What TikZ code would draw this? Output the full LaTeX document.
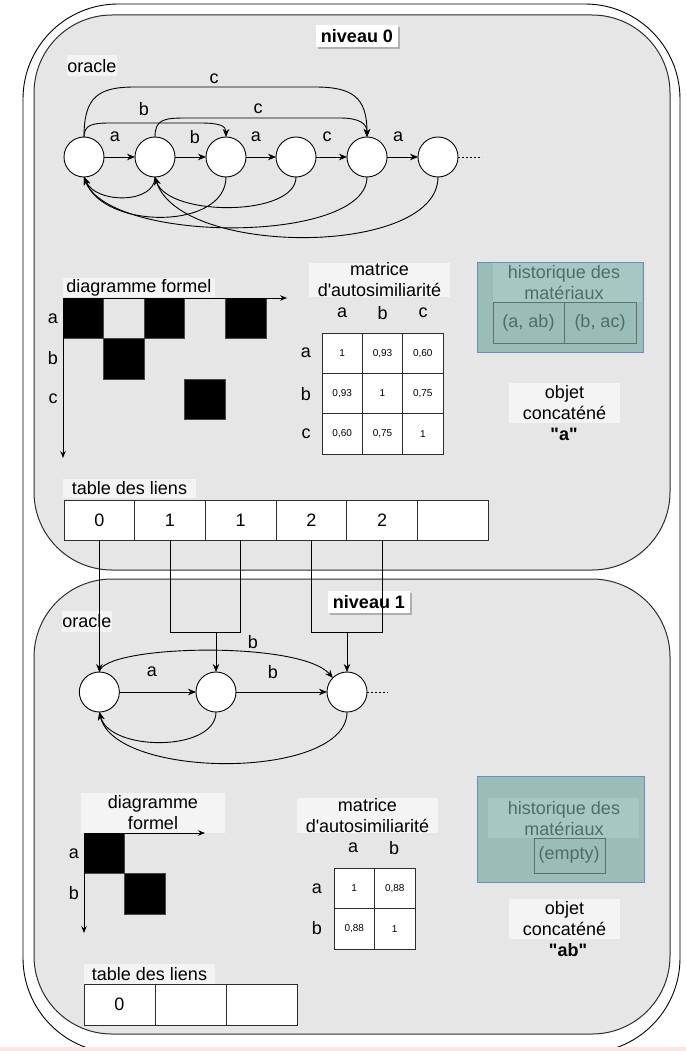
\documentclass[tikz,border=0pt]{standalone}
\usepackage{fontspec}
\setmainfont{Liberation Sans}[Ligatures=TeXOff]
\usetikzlibrary{arrows.meta}
\definecolor{boxgray}{RGB}{230,230,230}
\definecolor{labelbg}{RGB}{244,244,244}
\definecolor{edgegray}{RGB}{45,45,45}
\definecolor{histfill}{RGB}{155,189,183}
\definecolor{histband}{RGB}{167,200,194}
\definecolor{histborder}{RGB}{108,142,191}
\definecolor{histtext}{RGB}{80,108,103}
\definecolor{histline}{RGB}{88,116,108}
\definecolor{pinkstrip}{RGB}{252,230,228}
\definecolor{shadowgray}{RGB}{175,175,175}
\definecolor{sqedge}{RGB}{70,70,70}
\begin{document}
\begin{tikzpicture}[x=1pt,y=-1pt,
  every node/.style={inner sep=0pt, outer sep=0pt, font=\fontsize{18}{21}\selectfont},
  state/.style={circle, draw=black, fill=white, line width=0.9pt, minimum size=40pt},
  link/.style={draw=black, line width=0.9pt},
  arr/.style={link, -{Stealth[length=8pt,width=6.5pt]}},
  axarr/.style={link, -{Stealth[length=7pt,width=5.5pt]}},
  stub/.style={draw=black, line width=0.7pt, dash pattern=on 2pt off 2pt},
  lbl/.style={fill=labelbg, align=center},
  niv/.style={fill=white, font=\bfseries\fontsize{18}{21}\selectfont, minimum width=82pt, minimum height=22pt},
  level/.style={fill=boxgray, draw=edgegray, line width=1pt, rounded corners=78pt},
  cell/.style={draw=edgegray, fill=white, line width=0.9pt, minimum width=70.67pt, minimum height=40pt},
  mcell/.style={draw=edgegray, fill=white, line width=0.9pt, minimum size=40.4pt, font=\fontsize{10}{12}\selectfont},
  sq/.style={fill=black, draw=sqedge, line width=0.7pt, minimum size=40.6pt, anchor=north west},
  hist/.style={fill=histfill, draw=histborder, line width=1pt},
  band/.style={fill=histband},
  hcell/.style={draw=histline, fill=histfill, line width=0.9pt, text=histtext},
  htext/.style={text=histtext, align=center},
]
\useasboundingbox (0,0) rectangle (686,1051);
\fill[white] (0,0) rectangle (686,1051);
% outer frame and level boxes
\draw[fill=white, draw=black, line width=0.9pt, rounded corners=95pt] (23,4) rectangle (680,1053);
\draw[level] (34,15) rectangle (670,570);
\draw[level] (34,579) rectangle (670,1034);

% ================= LEVEL 0 =================
\fill[shadowgray] (318,27) rectangle (400,49);
\node[niv] (niv0) at (357,36) {niveau 0};
\node[lbl, minimum width=50pt, minimum height=21pt] (orc0) at (92,66) {oracle};

\foreach \i/\x in {1/84,2/155,3/226,4/296,5/367,6/438}
  \node[state] (n\i) at (\x,157) {};
\draw[arr] (n1) -- (n2);
\draw[arr] (n2) -- (n3);
\draw[arr] (n3) -- (n4);
\draw[arr] (n4) -- (n5);
\draw[arr] (n5) -- (n6);
\coordinate (d0) at (482,157);
\draw[stub] (n6.east) -- (d0);
\node (la1) at (115,137) {a};
\node (la2) at (195,137) {b};
\node (la3) at (256,137) {a};
\node (la4) at (327,137) {c};
\node (la5) at (398,137) {a};

% upper transitions
\draw[arr] (n1.north) .. controls (84,97) and (98,87) .. (135,87) -- (315,87) .. controls (352,87) and (367,97) .. (n5.north);
\draw[arr] (n1.north) .. controls (84,125) and (92,123) .. (110,123) -- (200,123) .. controls (220,123) and (226,126) .. (n3.north);
\draw[arr] (n2.north) .. controls (155,120) and (163,118) .. (185,118) -- (340,118) .. controls (360,118) and (367,124) .. (n5.north);
\node (lc1) at (214,79) {c};
\node (lb1) at (144,109) {b};
\node (lc2) at (258,109) {c};

% suffix links
\draw[arr] (n2.south) .. controls (155,204) and (96,204) .. (n1.south);
\draw[arr] (n3.south) .. controls (226,230) and (104,230) .. (n1.south);
\draw[arr] (n4.south) .. controls (296,217) and (168,217) .. (n2.south);
\draw[arr] (n5.south) .. controls (367,244) and (110,244) .. (n1.south);
\draw[arr] (n6.south) .. controls (438,257) and (180,257) .. (n2.south);

% diagramme formel
\node[lbl, minimum width=152pt, minimum height=19pt] (df0) at (139,287.5) {diagramme formel};
\node[sq] (s01) at (63,298) {};
\node[sq] (s02) at (144.2,298) {};
\node[sq] (s03) at (225.4,298) {};
\node[sq] (s04) at (103.6,338.6) {};
\node[sq] (s05) at (184.8,379.2) {};
\coordinate (o0) at (63,298);
\coordinate (xe0) at (287,298);
\coordinate (ye0) at (63,458);
\draw[axarr] (o0) -- (xe0);
\draw[axarr] (o0) -- (ye0);
\node (ra0) at (53,319) {a};
\node (rb0) at (53,358) {b};
\node (rc0) at (53,399) {c};

% matrice
\node[lbl, minimum width=141pt, minimum height=34pt] (mt0) at (379.5,280) {matrice\\d'autosimiliarité};
\node (ca0) at (342,313) {a};
\node (cb0) at (382.5,313) {b};
\node (cc0) at (423,313) {c};
\node (mra0) at (306,353) {a};
\node (mrb0) at (306,394) {b};
\node (mrc0) at (306,434) {c};
\node[mcell] (m011) at (342.2,353.2) {1};
\node[mcell] (m012) at (382.5,353.2) {0,93};
\node[mcell] (m013) at (422.8,353.2) {0,60};
\node[mcell] (m021) at (342.2,393.5) {0,93};
\node[mcell] (m022) at (382.5,393.5) {1};
\node[mcell] (m023) at (422.8,393.5) {0,75};
\node[mcell] (m031) at (342.2,433.8) {0,60};
\node[mcell] (m032) at (382.5,433.8) {0,75};
\node[mcell] (m033) at (422.8,433.8) {1};

% historique
\node[hist, minimum width=166pt, minimum height=90pt] (h0) at (560,307) {};
\node[band, minimum width=149pt, minimum height=39pt] (hb0) at (567.5,282.5) {};
\node[htext] (ht0) at (564,283) {historique des\\matériaux};
\node[hcell, minimum width=71pt, minimum height=41pt] (hc01) at (528.5,322.5) {(a, ab)};
\node[hcell, minimum width=72pt, minimum height=41pt] (hc02) at (600,322.5) {(b, ac)};

% objet concatene
\node[lbl, minimum width=111pt, minimum height=40pt] (ob0) at (564.5,403) {objet\\concaténé};
\node (ov0) at (564,434) {\textbf{"a"}};

% table des liens
\node[lbl, minimum width=133pt, minimum height=19pt] (tl0) at (129.5,488.5) {table des liens};
\node[cell] (t1) at (99.33,520) {0};
\node[cell] (t2) at (170,520) {1};
\node[cell] (t3) at (240.67,520) {1};
\node[cell] (t4) at (311.33,520) {2};
\node[cell] (t5) at (382,520) {2};
\node[cell] (t6) at (452.67,520) {};

% ================= LEVEL 1 =================
\fill[shadowgray] (330,593) rectangle (412,615);
\node[niv] (niv1) at (369,602) {niveau 1};
\node[lbl, minimum width=48pt, minimum height=21pt] (orc1) at (87,621.5) {oracle};

\node[state] (m1) at (99.33,692) {};
\node[state] (m2) at (216,692) {};
\node[state] (m3) at (347,692) {};
\draw[arr] (m1) -- (m2);
\draw[arr] (m2) -- (m3);
\coordinate (d1) at (388,692);
\draw[stub] (m3.east) -- (d1);
\node (lm1) at (152,672) {a};
\node (lm2) at (273,672) {b};
\draw[arr] (m1.north) .. controls (102,645) and (300,640) .. (m3.north west);
\node (lm3) at (253,642) {b};
\draw[arr] (m2.south) .. controls (216,752) and (110,752) .. (m1.south);
\draw[arr] (m3.south) .. controls (347,780) and (115,780) .. (m1.south);

% links from table of level 0 to level 1 states
\coordinate (j) at (0,632);
\draw[arr] (t1.south) -- (m1.north);
\draw[link] (t2.south) -- (t2.south |- j) -- (t3.south |- j) -- (t3.south);
\draw[arr] (m2.north |- j) -- (m2.north);
\draw[link] (t4.south) -- (t4.south |- j) -- (t5.south |- j) -- (t5.south);
\draw[arr] (m3.north |- j) -- (m3.north);

% diagramme formel level 1
\node[lbl, minimum width=144pt, minimum height=40pt] (df1) at (153,813) {diagramme\\formel};
\node[sq] (s11) at (84,833) {};
\node[sq] (s12) at (124.6,873.6) {};
\coordinate (o1) at (84,833);
\coordinate (xe1) at (205,833);
\coordinate (ye1) at (84,933);
\draw[axarr] (o1) -- (xe1);
\draw[axarr] (o1) -- (ye1);
\node (ra1) at (74,854) {a};
\node (rb1) at (74,893) {b};

% matrice level 1
\node[lbl, minimum width=141pt, minimum height=35pt] (mt1) at (367.5,815.5) {matrice\\d'autosimiliarité};
\node (ca1) at (353,848) {a};
\node (cb1) at (394,848) {b};
\node (mra1) at (317,889) {a};
\node (mrb1) at (317,928) {b};
\node[mcell, minimum size=40.5pt] (m111) at (354.25,888.25) {1};
\node[mcell, minimum size=40.5pt] (m112) at (394.75,888.25) {0,88};
\node[mcell, minimum size=40.5pt] (m121) at (354.25,928.75) {0,88};
\node[mcell, minimum size=40.5pt] (m122) at (394.75,928.75) {1};

% historique level 1
\node[hist, minimum width=167pt, minimum height=106pt] (h1) at (560.5,829) {};
\node[hcell, minimum width=71pt, minimum height=35pt] (hc11) at (569.5,855.5) {};
\node[band, minimum width=151pt, minimum height=40pt] (hb1) at (563.5,818) {};
\node[htext] (ht1) at (564,818.5) {historique des\\matériaux};
\node[htext] (he1) at (569,855) {(empty)};

% objet concatene level 1
\node[lbl, minimum width=111pt, minimum height=40pt] (ob1) at (564.5,919) {objet\\concaténé};
\node (ov1) at (568,950) {\textbf{"ab"}};

% table des liens level 1
\node[lbl, minimum width=131pt, minimum height=20pt] (tl1) at (149.5,974) {table des liens};
\node[cell, minimum width=71pt, minimum height=41pt] (u1) at (119.5,1004.5) {0};
\node[cell, minimum width=71pt, minimum height=41pt] (u2) at (190.5,1004.5) {};
\node[cell, minimum width=71pt, minimum height=41pt] (u3) at (261.5,1004.5) {};

% bottom strip
\fill[pinkstrip] (0,1047) rectangle (686,1051);
\end{tikzpicture}
\end{document}
